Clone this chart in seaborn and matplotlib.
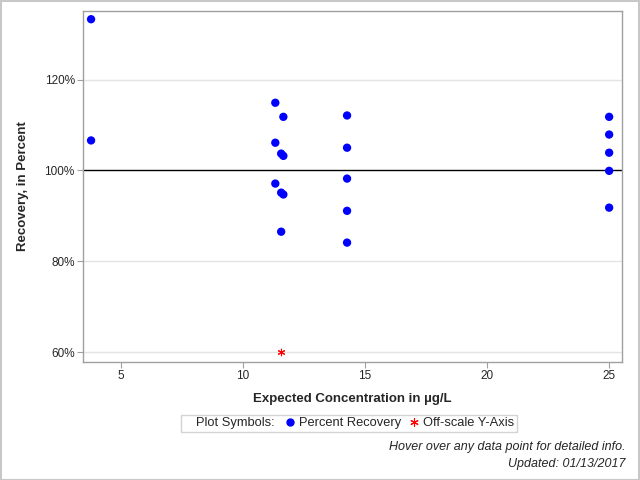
import numpy as np
import pandas as pd
import matplotlib
matplotlib.use("Agg")
import matplotlib.pyplot as plt
from matplotlib.lines import Line2D
from matplotlib.patches import Rectangle
from matplotlib.ticker import FuncFormatter
import seaborn as sns

# Data
conc = [3.77, 3.77,
        11.32, 11.32, 11.32, 11.65, 11.56, 11.65, 11.56, 11.65, 11.56,
        14.26, 14.26, 14.26, 14.26, 14.26,
        25.0, 25.0, 25.0, 25.0, 25.0]
recovery = [133.3, 106.6,
            114.9, 106.1, 97.1, 111.8, 103.7, 103.2, 95.1, 94.7, 86.5,
            112.1, 105.0, 98.2, 91.1, 84.1,
            111.8, 107.9, 103.9, 99.9, 91.8]
offscale_conc = [11.56]
offscale_rec = [60.0]

df = pd.DataFrame({"conc": conc, "rec": recovery})
off = pd.DataFrame({"conc": offscale_conc, "rec": offscale_rec})

sns.set_style("white")
plt.rcParams["font.family"] = ["Liberation Sans", "DejaVu Sans"]

fig = plt.figure(figsize=(6.4, 4.8), dpi=100)
ax = fig.add_axes([0.1297, 0.2458, 0.8423, 0.7312])

ax.axhline(100, color="black", lw=1, zorder=1)
for g in [60, 80, 120]:
    ax.axhline(g, color="#e4e4e4", lw=1, zorder=0)

sns.scatterplot(data=df, x="conc", y="rec", ax=ax, color="#0000ff",
                s=36, edgecolor="none", zorder=3)
sns.scatterplot(data=off, x="conc", y="rec", ax=ax, color="red",
                marker=(6, 2, 0), s=22, linewidth=0.8, zorder=3)

ax.set_xlim(3.44, 25.53)
ax.set_ylim(57.8, 135.1)
ax.set_xticks([5, 10, 15, 20, 25])
ax.set_yticks([60, 80, 100, 120])
ax.yaxis.set_major_formatter(FuncFormatter(lambda v, p: f"{v:.0f}%"))
ax.tick_params(axis="both", which="both", direction="out", length=4,
               color="#a0a0a0", labelsize=8.5, pad=2, bottom=True, left=True)
for sp in ax.spines.values():
    sp.set_color("#a0a0a0")
    sp.set_linewidth(1)

ax.set_xlabel("Expected Concentration in µg/L", fontsize=9.5, fontweight="bold", labelpad=8)
ax.set_ylabel("Recovery, in Percent", fontsize=9.5, fontweight="bold", labelpad=11)

# legend
handles = [Line2D([], [], linestyle="none", marker=None),
           Line2D([], [], linestyle="none", marker="o", color="#0000ff", markersize=5),
           Line2D([], [], linestyle="none", marker=(6, 2, 0), color="red",
                  markeredgewidth=0.8, markersize=6)]
labels = ["Plot Symbols: ", "Percent Recovery", "Off-scale Y-Axis"]
leg = fig.legend(handles, labels, loc="center", bbox_to_anchor=(0.545, 0.118),
                 ncol=3, frameon=True, fontsize=9.3, handlelength=0.5,
                 handletextpad=0.45, columnspacing=0.7, borderpad=0.2,
                 borderaxespad=0, fancybox=False)
leg.get_frame().set_edgecolor("#c8c8c8")
leg.get_frame().set_linewidth(1)

fig.text(0.978, 0.069, "Hover over any data point for detailed info.",
         ha="right", va="center", fontsize=9, style="italic")
fig.text(0.978, 0.034, "Updated: 01/13/2017",
         ha="right", va="center", fontsize=9, style="italic")

fig.patches.append(Rectangle((0.001, 0.001), 0.997, 0.997, transform=fig.transFigure,
                             fill=False, edgecolor="#c8c8c8", lw=1.5))

fig.savefig("out.png", dpi=100)
